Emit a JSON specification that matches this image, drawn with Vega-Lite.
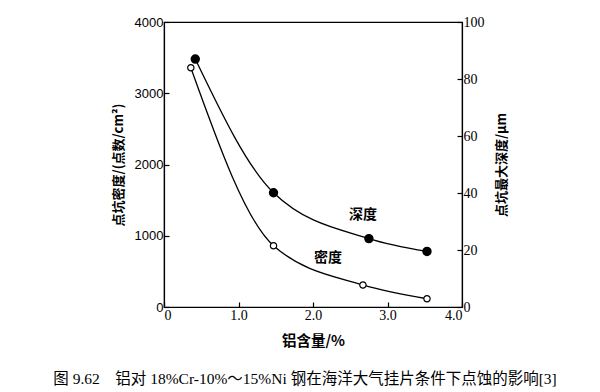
{
  "$schema": "https://vega.github.io/schema/vega-lite/v6.json",
  "width": 298,
  "height": 285,
  "autosize": "none",
  "padding": {"left": 164, "top": 22, "right": 138, "bottom": 85},
  "background": "white",
  "config": {
    "view": {"stroke": "black", "strokeWidth": 1.2},
    "axis": {
      "grid": false,
      "domainColor": "black",
      "domainWidth": 1.2,
      "tickColor": "black",
      "tickSize": -5,
      "tickWidth": 1.2,
      "labelColor": "black",
      "titleColor": "black",
      "labelFont": "Liberation Serif",
      "labelFontSize": 14,
      "titleFont": "Noto Sans CJK SC",
      "titleFontSize": 13,
      "titleFontWeight": "bold",
      "labelPadding": 6
    }
  },
  "title": {
    "text": "图 9.62　铝对 18%Cr-10%～15%Ni 钢在海洋大气挂片条件下点蚀的影响[3]",
    "orient": "bottom",
    "anchor": "middle",
    "font": "Liberation Serif, Noto Sans CJK SC",
    "fontSize": 15.5,
    "fontWeight": "normal",
    "color": "black",
    "offset": 24,
    "dx": -8
  },
  "datasets": {
    "density": [
      {"al": 0.36, "density": 3358},
      {"al": 1.47, "density": 860},
      {"al": 2.67, "density": 309},
      {"al": 3.53, "density": 116}
    ],
    "depth": [
      {"al": 0.42, "depth": 87.0},
      {"al": 1.47, "depth": 40.1},
      {"al": 2.75, "depth": 24.0},
      {"al": 3.53, "depth": 19.5}
    ]
  },
  "layer": [
    {
      "data": {"name": "density"},
      "layer": [
        {
          "mark": {"type": "line", "interpolate": "monotone", "color": "black", "strokeWidth": 1.3},
          "encoding": {
            "x": {
              "field": "al", "type": "quantitative",
              "scale": {"domain": [0, 4]},
              "axis": {
                "title": "铝含量/%",
                "titleFontSize": 14.5,
                "values": [0, 1, 2, 3, 4],
                "labelExpr": "datum.value == 0 ? '0' : format(datum.value, '.1f')",
                "titlePadding": 12
              }
            },
            "y": {
              "field": "density", "type": "quantitative",
              "scale": {"domain": [0, 4000]},
              "axis": {
                "title": "点坑密度/(点数/cm²)",
                "values": [0, 1000, 2000, 3000, 4000],
                "format": "d",
                "labelFont": "Liberation Sans",
                "labelFontSize": 13,
                "titlePadding": 9
              }
            }
          }
        },
        {
          "mark": {"type": "point", "shape": "circle", "filled": true, "fill": "white", "stroke": "black", "strokeWidth": 1.2, "size": 40, "opacity": 1},
          "encoding": {
            "x": {"field": "al", "type": "quantitative"},
            "y": {"field": "density", "type": "quantitative"}
          }
        },
        {
          "data": {"values": [{"al": 2.2, "density": 690, "label": "密度"}]},
          "mark": {"type": "text", "font": "Noto Sans CJK SC", "fontSize": 14, "fontWeight": "bold", "color": "black"},
          "encoding": {
            "x": {"field": "al", "type": "quantitative"},
            "y": {"field": "density", "type": "quantitative"},
            "text": {"field": "label"}
          }
        }
      ]
    },
    {
      "data": {"name": "depth"},
      "layer": [
        {
          "mark": {"type": "line", "interpolate": "monotone", "color": "black", "strokeWidth": 1.3},
          "encoding": {
            "x": {"field": "al", "type": "quantitative"},
            "y": {
              "field": "depth", "type": "quantitative",
              "scale": {"domain": [0, 100]},
              "axis": {
                "orient": "right",
                "title": "点坑最大深度/μm",
                "titleAngle": -90,
                "values": [0, 20, 40, 60, 80, 100],
                "titlePadding": 24
              }
            }
          }
        },
        {
          "mark": {"type": "point", "shape": "circle", "filled": true, "fill": "black", "stroke": "black", "size": 55, "opacity": 1},
          "encoding": {
            "x": {"field": "al", "type": "quantitative"},
            "y": {"field": "depth", "type": "quantitative"}
          }
        },
        {
          "data": {"values": [{"al": 2.67, "depth": 32.3, "label": "深度"}]},
          "mark": {"type": "text", "font": "Noto Sans CJK SC", "fontSize": 14, "fontWeight": "bold", "color": "black"},
          "encoding": {
            "x": {"field": "al", "type": "quantitative"},
            "y": {"field": "depth", "type": "quantitative"},
            "text": {"field": "label"}
          }
        }
      ]
    }
  ],
  "resolve": {"scale": {"y": "independent"}}
}
